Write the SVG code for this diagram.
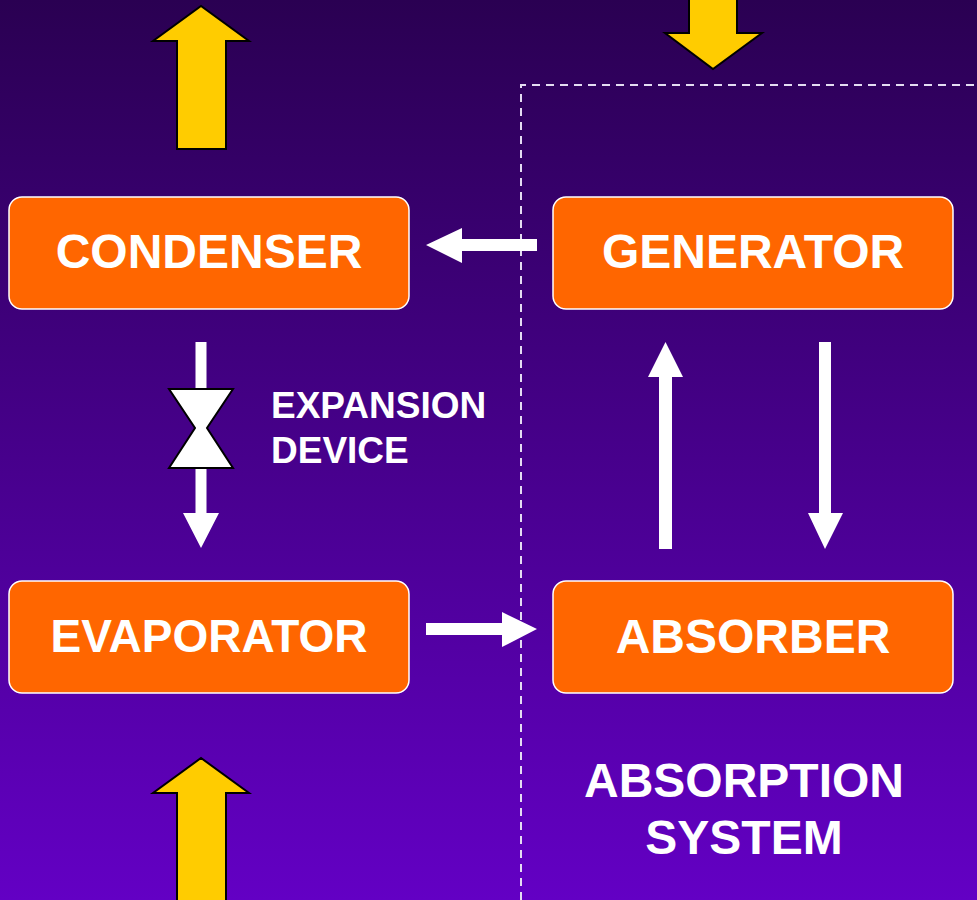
<svg xmlns="http://www.w3.org/2000/svg" width="977" height="900" viewBox="0 0 977 900">
<defs>
<linearGradient id="bg" x1="0" y1="0" x2="0" y2="1">
<stop offset="0" stop-color="#2a0052"/>
<stop offset="1" stop-color="#6300c4"/>
</linearGradient>
</defs>
<style>
.box{fill:#ff6600;stroke:#ffffff;stroke-width:1.5}
.lbl{font-family:"Liberation Sans",Arial,sans-serif;font-weight:bold;fill:#ffffff}
.big{font-size:48px;text-anchor:middle}
.small{font-size:37px}
.heat{fill:#ffcc00;stroke:#000000;stroke-width:2;stroke-linejoin:miter}
.flow{fill:#ffffff}
.dash{fill:none;stroke:#e4dcf2;stroke-width:2;stroke-dasharray:8,6}
</style>
<rect width="977" height="900" fill="url(#bg)"/>
<path class="dash" d="M521,900 V85 H977"/>
<g id="heat-arrows">
<polygon class="heat" points="177,149 177,41 153,41 201,6 249,41 226,41 226,149"/>
<polygon class="heat" points="689,-2 689,33 665,33 713,69 762,33 737,33 737,-2"/>
<polygon class="heat" points="177,902 177,793 153,793 201,758 249,793 226,793 226,902"/>
</g>
<g id="connectors">
<polygon class="flow" points="537,239 462,239 462,228 426,245 462,263 462,251 537,251"/>
<polygon class="flow" points="426,623 502,623 502,612 537,629 502,647 502,635 426,635"/>
<polygon class="flow" points="659,549 659,377 648,377 665.5,342 683,377 672,377 672,549"/>
<polygon class="flow" points="819,342 831,342 831,513 843,513 825,549 808,513 819,513"/>
<polygon class="flow" points="195.5,342 206.5,342 206.5,513 219,513 201,548 183,513 195.5,513"/>
</g>
<g id="expansion-device">
<polygon fill="#ffffff" stroke="#000000" stroke-width="2" points="169,389 233,389 207,428 233,468 169,468 195,428"/>
<text class="lbl small" x="271" y="418">EXPANSION</text>
<text class="lbl small" x="271" y="463">DEVICE</text>
</g>
<g id="condenser">
<rect class="box" x="9" y="197" width="400" height="112" rx="13"/>
<text class="lbl big" x="209" y="268">CONDENSER</text>
</g>
<g id="generator">
<rect class="box" x="553" y="197" width="400" height="112" rx="13"/>
<text class="lbl big" x="753" y="268">GENERATOR</text>
</g>
<g id="evaporator">
<rect class="box" x="9" y="581" width="400" height="112" rx="13"/>
<text class="lbl big" x="209" y="652" style="font-size:46px">EVAPORATOR</text>
</g>
<g id="absorber">
<rect class="box" x="553" y="581" width="400" height="112" rx="13"/>
<text class="lbl big" x="753" y="653">ABSORBER</text>
</g>
<g id="absorption-system">
<text class="lbl big" x="744" y="797">ABSORPTION</text>
<text class="lbl big" x="744" y="854">SYSTEM</text>
</g>
</svg>
